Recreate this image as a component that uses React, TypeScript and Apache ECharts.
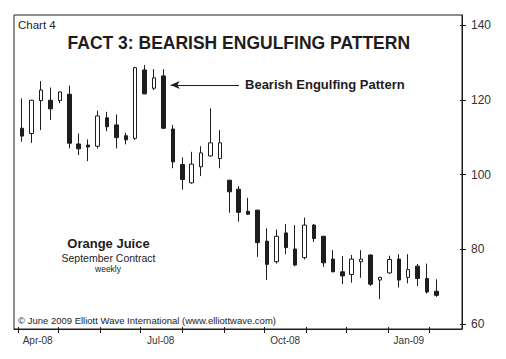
import React, { useEffect, useRef } from "react";
import * as echarts from "echarts";

// Weekly candles (week-ending Fridays)
const weekDates = [
  "2008-04-04", "2008-04-11", "2008-04-18", "2008-04-25", "2008-05-02", "2008-05-09",
  "2008-05-16", "2008-05-23", "2008-05-30", "2008-06-06", "2008-06-13", "2008-06-20",
  "2008-06-27", "2008-07-04", "2008-07-11", "2008-07-18", "2008-07-25", "2008-08-01",
  "2008-08-08", "2008-08-15", "2008-08-22", "2008-08-29", "2008-09-05", "2008-09-12",
  "2008-09-19", "2008-09-26", "2008-10-03", "2008-10-10", "2008-10-17", "2008-10-24",
  "2008-10-31", "2008-11-07", "2008-11-14", "2008-11-21", "2008-11-28", "2008-12-05",
  "2008-12-12", "2008-12-19", "2008-12-26", "2009-01-02", "2009-01-09", "2009-01-16",
  "2009-01-23", "2009-01-30", "2009-02-06",
];
const openPrices = [
  112.4, 111.0, 119.8, 119.9, 119.8, 121.5, 108.2, 107.9, 107.6, 115.2, 113.3, 110.4,
  109.7, 128.0, 123.1, 126.4, 112.2, 102.7, 97.8, 102.1, 105.0, 104.3, 98.5, 96.1,
  90.2, 90.5, 82.2, 76.7, 84.4, 80.1, 77.8, 86.5, 83.5, 77.4, 74.0, 73.3,
  76.7, 78.5, 71.8, 73.7, 77.4, 72.5, 75.5, 72.2, 68.8,
];
const closePrices = [
  110.3, 119.9, 122.6, 117.6, 122.1, 108.4, 106.9, 107.4, 115.7, 112.8, 109.9, 109.3,
  128.6, 121.6, 125.9, 112.4, 103.4, 98.7, 102.8, 105.8, 108.5, 108.5, 95.4, 89.9,
  89.4, 81.8, 76.0, 83.5, 80.5, 75.8, 86.5, 82.9, 76.4, 74.0, 72.9, 77.4,
  77.4, 70.7, 72.5, 77.3, 71.8, 74.6, 72.2, 68.6, 67.7,
];
const lowPrices = [
  108.8, 108.5, 111.9, 114.6, 119.1, 107.0, 105.2, 103.6, 107.0, 111.6, 107.0, 108.1,
  109.2, 121.5, 122.6, 112.2, 101.7, 96.0, 97.6, 99.6, 104.8, 101.7, 89.8, 87.4,
  89.2, 78.0, 71.8, 76.2, 78.7, 75.5, 77.3, 82.0, 75.3, 73.9, 70.7, 71.1,
  72.4, 70.2, 66.7, 73.5, 69.8, 70.9, 70.2, 68.2, 67.3,
];
const highPrices = [
  120.4, 120.0, 125.0, 123.3, 122.3, 123.8, 111.0, 109.4, 117.1, 116.8, 116.1, 111.2,
  128.8, 129.3, 128.2, 128.2, 113.3, 104.6, 106.1, 107.6, 117.7, 111.9, 98.6, 96.9,
  93.8, 90.6, 85.6, 85.3, 86.8, 86.5, 88.5, 86.8, 83.6, 79.8, 78.2, 78.5,
  79.8, 78.6, 72.7, 78.3, 78.7, 78.7, 76.1, 76.2, 72.0,
];

// Axis ticks / labels
const monthTickDates = [
  "2008-04-01", "2008-05-01", "2008-06-01", "2008-07-01", "2008-08-01", "2008-09-01",
  "2008-10-01", "2008-11-01", "2008-12-01", "2009-01-01", "2009-02-01",
];
const monthLabelDates = ["2008-04-15.5", "2008-07-16", "2008-10-16.5", "2009-01-16.5"];
const monthLabels = ["Apr-08", "Jul-08", "Oct-08", "Jan-09"];
const yTicks = [60, 80, 100, 120, 140];

// Annotation: the engulfing candle
const patternIndex = 15;
const patternLabel = "Bearish Engulfing Pattern";

const dayNum = (s: string): number => {
  const [y, m, dRaw] = s.split("-");
  const d = parseFloat(dRaw);
  return (Date.UTC(+y, +m - 1, 1) - Date.UTC(2008, 0, 1)) / 86400000 + d - 1;
};

const FONT = '"Liberation Sans", Arial, Helvetica, sans-serif';
const INK = "#1e1c1d";

export default function App() {
  const ref = useRef<HTMLDivElement>(null);

  useEffect(() => {
    if (!ref.current) return;
    const chart = echarts.init(ref.current, undefined, { renderer: "svg" });

    const candles = weekDates.map((d, i) => [
      dayNum(d),
      openPrices[i],
      closePrices[i],
      lowPrices[i],
      highPrices[i],
    ]);
    const tickVals = monthTickDates.map(dayNum);
    const labelVals = monthLabelDates.map(dayNum);
    const labelMap: Record<string, string> = {};
    labelVals.forEach((v, i) => (labelMap[String(v)] = monthLabels[i]));

    const xMin = 87.9;
    const xMax = 421;
    const yMin = 58.7;
    const yMax = 142.7;

    const pDay = dayNum(weekDates[patternIndex]);
    const arrowY = 124;

    chart.setOption({
      animation: false,
      backgroundColor: "#ffffff",
      grid: {
        left: 14,
        top: 15,
        right: 44,
        bottom: 30,
        show: true,
        borderColor: INK,
        borderWidth: 1,
        backgroundColor: "transparent",
      },
      xAxis: [
        {
          type: "value",
          min: xMin,
          max: xMax,
          position: "bottom",
          axisLine: { show: true, lineStyle: { color: INK, width: 1 } },
          axisTick: { show: true, customValues: tickVals, length: 4, lineStyle: { color: INK } },
          axisLabel: {
            show: true,
            customValues: labelVals,
            formatter: (v: number) => labelMap[String(v)] ?? "",
            color: "#333",
            fontSize: 10,
            fontFamily: FONT,
            margin: 6,
          },
          splitLine: { show: false },
        },
        {
          type: "value",
          min: xMin,
          max: xMax,
          position: "bottom",
          axisLine: { show: false },
          axisTick: { show: true, inside: true, customValues: tickVals, length: 2, lineStyle: { color: INK } },
          axisLabel: { show: false },
          splitLine: { show: false },
        },
      ],
      yAxis: [
        {
          type: "value",
          min: yMin,
          max: yMax,
          position: "right",
          axisLine: { show: true, lineStyle: { color: INK, width: 1 } },
          axisTick: { show: true, customValues: yTicks, length: 4, lineStyle: { color: INK } },
          axisLabel: {
            show: true,
            customValues: yTicks,
            color: "#333",
            fontSize: 12,
            fontFamily: FONT,
            margin: 9,
          },
          splitLine: { show: false },
        },
        {
          type: "value",
          min: yMin,
          max: yMax,
          position: "right",
          axisLine: { show: false },
          axisTick: { show: true, inside: true, customValues: yTicks, length: 2, lineStyle: { color: INK } },
          axisLabel: { show: false },
          splitLine: { show: false },
        },
      ],
      series: [
        {
          type: "candlestick",
          xAxisIndex: 0,
          yAxisIndex: 0,
          barWidth: 4,
          data: candles,
          itemStyle: {
            color: "#ffffff",
            color0: INK,
            borderColor: INK,
            borderColor0: INK,
            borderWidth: 1,
          },
          markLine: {
            silent: true,
            symbol: ["arrow", "none"],
            symbolSize: [6, 9],
            lineStyle: { color: INK, width: 1, type: "solid" },
            label: {
              show: true,
              position: "end",
              formatter: patternLabel,
              color: INK,
              fontSize: 13,
              fontWeight: "bold",
              fontFamily: FONT,
              distance: 6,
            },
            data: [
              [
                { coord: [pDay + 5.4, arrowY] },
                { coord: [pDay + 56.2, arrowY] },
              ],
            ],
          },
        },
      ],
      graphic: [
        {
          type: "text",
          x: 18,
          y: 25,
          style: {
            text: "Chart 4",
            font: `11.5px ${FONT}`,
            fill: INK,
            textAlign: "left",
            textVerticalAlign: "middle",
          },
        },
        {
          type: "text",
          x: 238.8,
          y: 43,
          style: {
            text: "FACT 3: BEARISH ENGULFING PATTERN",
            font: `bold 17.5px ${FONT}`,
            fill: INK,
            textAlign: "center",
            textVerticalAlign: "middle",
          },
        },
        {
          type: "text",
          x: 108.5,
          y: 243,
          style: {
            text: "Orange Juice",
            font: `bold 13px ${FONT}`,
            fill: INK,
            textAlign: "center",
            textVerticalAlign: "middle",
          },
        },
        {
          type: "text",
          x: 108.5,
          y: 258,
          style: {
            text: "September Contract",
            font: `10.5px ${FONT}`,
            fill: INK,
            textAlign: "center",
            textVerticalAlign: "middle",
          },
        },
        {
          type: "text",
          x: 108,
          y: 269,
          style: {
            text: "weekly",
            font: `8.5px ${FONT}`,
            fill: INK,
            textAlign: "center",
            textVerticalAlign: "middle",
          },
        },
        {
          type: "text",
          x: 18,
          y: 320,
          style: {
            text: "© June 2009 Elliott Wave International (www.elliottwave.com)",
            font: `9.5px ${FONT}`,
            fill: INK,
            textAlign: "left",
            textVerticalAlign: "middle",
          },
        },
      ],
    });

    return () => chart.dispose();
  }, []);

  return (
    <div
      ref={ref}
      style={{ position: "fixed", left: 0, top: 0, width: 506, height: 359, background: "#fff" }}
    />
  );
}
